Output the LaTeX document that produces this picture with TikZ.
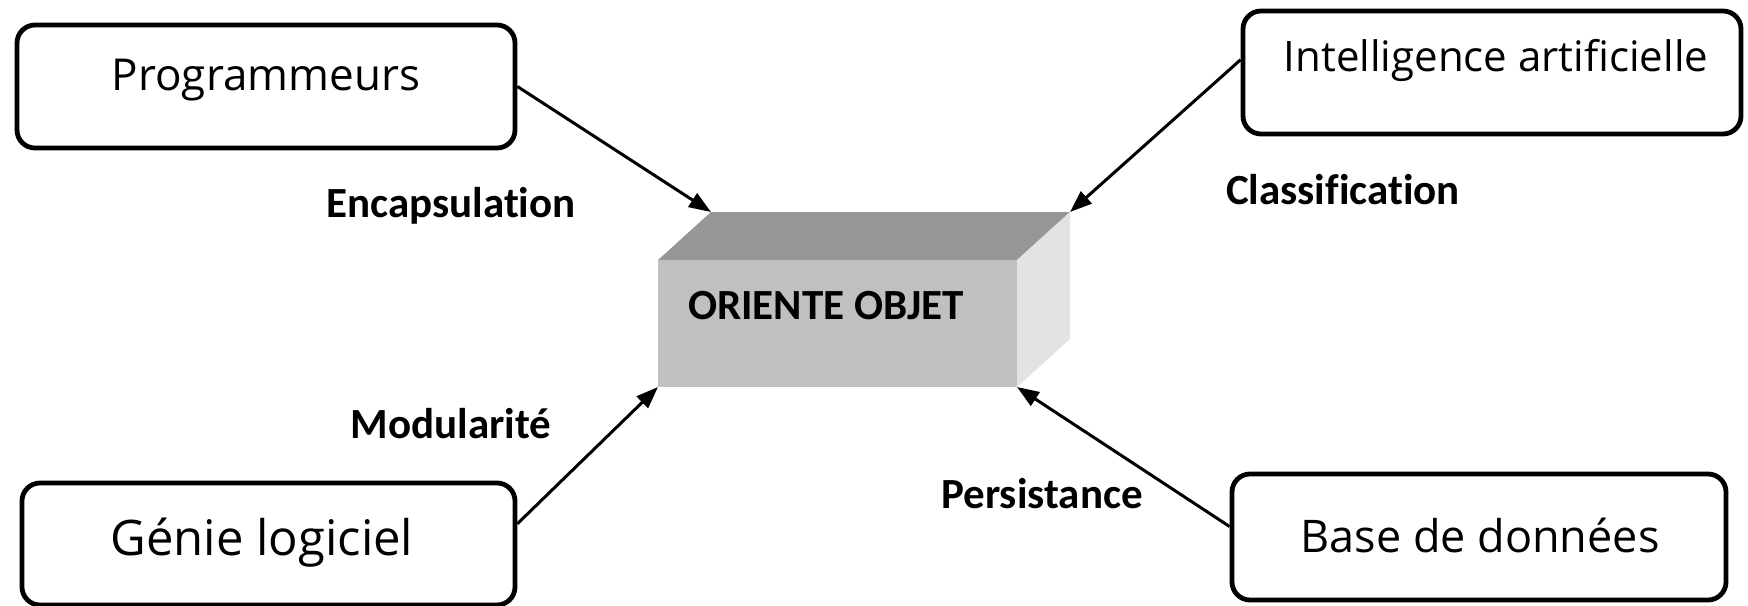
\documentclass[tikz,border=0pt]{standalone}
\usepackage{fontspec}
\setmainfont{Open Sans}
\newfontfamily\lblfont[Ligatures={NoCommon}]{Carlito}
\usetikzlibrary{arrows.meta,calc}
\tikzset{
  box/.style={draw=black, line width=2.4pt, rounded corners=9pt, fill=white, inner sep=0pt},
  boxtext/.style={inner sep=0pt, font=\fontsize{22}{26}\selectfont},
  lbl/.style={inner sep=0pt, font=\lblfont\bfseries\fontsize{21.5}{24}\selectfont},
  conn/.style={line width=1.5pt, -{Triangle[length=11pt,width=8pt]}}
}
\begin{document}
\begin{tikzpicture}[x=0.5pt,y=-0.5pt]
\useasboundingbox (0,0) rectangle (1748,605);
% outer boxes
\node[box, minimum width=249pt, minimum height=61.5pt] (prog) at (266,86.5) {};
\node[boxtext] (progt) at (266,80) {Programmeurs};
\node[box, minimum width=249pt, minimum height=61.5pt] (ia) at (1492,72.5) {};
\node[boxtext, font=\fontsize{21}{24}\selectfont] (iat) at (1496,60) {Intelligence artificielle};
\node[box, minimum width=246.5pt, minimum height=61pt] (gl) at (268.5,544) {};
\node[boxtext, font=\fontsize{24.5}{28}\selectfont] (glt) at (262,543) {Génie logiciel};
\node[box, minimum width=247pt, minimum height=63pt] (bd) at (1479,537) {};
\node[boxtext, font=\fontsize{22.5}{26}\selectfont] (bdt) at (1480,535) {Base de données};
% cube
\coordinate (flt) at (658,260);
\coordinate (frt) at (1017,260);
\coordinate (flb) at (658,387);
\coordinate (frb) at (1017,387);
\coordinate (blt) at (711,212);
\coordinate (brt) at (1070,212);
\coordinate (brb) at (1070,339);
\fill[fill={rgb,255:red,150;green,150;blue,150}] (flt) -- (blt) -- (brt) -- (frt) -- cycle;
\fill[fill={rgb,255:red,227;green,227;blue,227}] (frt) -- (brt) -- (brb) -- (frb) -- cycle;
\node[fill={rgb,255:red,192;green,192;blue,192}, inner sep=0pt, minimum width=179.5pt, minimum height=63.5pt] (oo) at (837.5,323.5) {};
\node[lbl] (oot) at (826,306) {ORIENTE OBJET};
% labels
\node[lbl] (enc) at (451,206) {Encapsulation};
\node[lbl] (cla) at (1343,190) {Classification};
\node[lbl] (mod) at (451,424) {Modularité};
\node[lbl] (per) at (1042,494) {Persistance};
% connectors
\coordinate (iaw) at ($(ia.north west)!0.40!(ia.south west)$);
\coordinate (glw) at ($(gl.north east)!0.34!(gl.south east)$);
\coordinate (bdw) at ($(bd.north west)!0.42!(bd.south west)$);
\draw[conn] (prog.east) -- (blt);
\draw[conn] (iaw) -- (brt);
\draw[conn] (glw) -- (flb);
\draw[conn] (bdw) -- (frb);
\end{tikzpicture}
\end{document}
